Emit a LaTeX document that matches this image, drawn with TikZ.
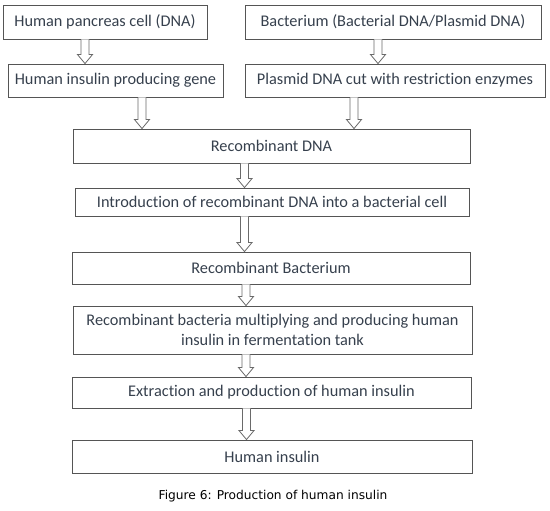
\documentclass[tikz,border=0pt]{standalone}
\usepackage{fontspec}
\setmainfont{Carlito}[Ligatures=NoCommon]
\newfontfamily\capfont{DejaVu Sans}
\usepackage{tikz}
\usetikzlibrary{calc}
\definecolor{txtgray}{HTML}{36404D}
\definecolor{linegray}{HTML}{555555}
\definecolor{arrgray}{HTML}{6A6A6A}

% hollow block arrow: [x shift]{from}{to}
\newcommand{\fatarrow}[3][0pt]{%
  \draw[fatarr] let \p1=($(#2)+(#1,0)$), \p2=(#3) in
    (\x1-4pt,\y1) -- (\x1-4pt,\y2+9pt) -- (\x1-7.5pt,\y2+9pt) -- (\x1,\y2)
    -- (\x1+7.5pt,\y2+9pt) -- (\x1+4pt,\y2+9pt) -- (\x1+4pt,\y1);}

\begin{document}
\begin{tikzpicture}[
  x=1pt, y=-1pt,
  stepbox/.style={draw=linegray, line width=0.9pt, inner sep=2pt,
                  text=txtgray, font=\fontsize{16.3}{19.5}\selectfont, align=center},
  fatarr/.style={draw=arrgray, line width=0.8pt, fill=white}
]
\useasboundingbox (0,0) rectangle (550,511);

%% ---- top row: two sources ----
\node[stepbox, minimum width=204pt, minimum height=34pt] (pancreas) at (105,22)
  {Human pancreas cell (DNA)};
\node[stepbox, minimum width=296pt, minimum height=34pt] (bacterium) at (393,22)
  {Bacterium (Bacterial DNA/Plasmid DNA)};

\node[stepbox, minimum width=215pt, minimum height=33pt] (gene) at (115.5,80.5)
  {Human insulin producing gene};
\node[stepbox, minimum width=300pt, minimum height=33pt] (plasmid) at (395,80.5)
  {Plasmid DNA cut with restriction enzymes};

%% ---- main column ----
\node[stepbox, minimum width=397pt, minimum height=34pt] (recdna) at (271.5,146)
  {Recombinant DNA};
\node[stepbox, minimum width=394pt, minimum height=28pt] (intro) at (272,202)
  {Introduction of recombinant DNA into a bacterial cell};
\node[stepbox, minimum width=398pt, minimum height=32pt] (recbact) at (271,268)
  {Recombinant Bacterium};
\node[stepbox, minimum width=399pt, minimum height=48pt] (multiply) at (272.5,330)
  {Recombinant bacteria multiplying and producing human\\insulin in fermentation tank};
\node[stepbox, minimum width=399pt, minimum height=31pt] (extract) at (271.5,392.5)
  {Extraction and production of human insulin};
\node[stepbox, minimum width=400pt, minimum height=33pt] (insulin) at (272,456.5)
  {Human insulin};

\node[font=\capfont\fontsize{12.2}{14}\selectfont] (caption) at (273,496)
  {Figure 6: Production of human insulin};

%% arrows
\fatarrow[-20pt]{pancreas.south}{gene.north}
\fatarrow[-15pt]{bacterium.south}{plasmid.north}
\fatarrow[26.5pt]{gene.south}{recdna.north}
\fatarrow[-41pt]{plasmid.south}{recdna.north}
\fatarrow[-27pt]{recdna.south}{intro.north}
\fatarrow[-27.5pt]{intro.south}{recbact.north}
\fatarrow[-25pt]{recbact.south}{multiply.north}
\fatarrow[-26.5pt]{multiply.south}{extract.north}
\fatarrow[-25pt]{extract.south}{insulin.north}

\end{tikzpicture}
\end{document}
